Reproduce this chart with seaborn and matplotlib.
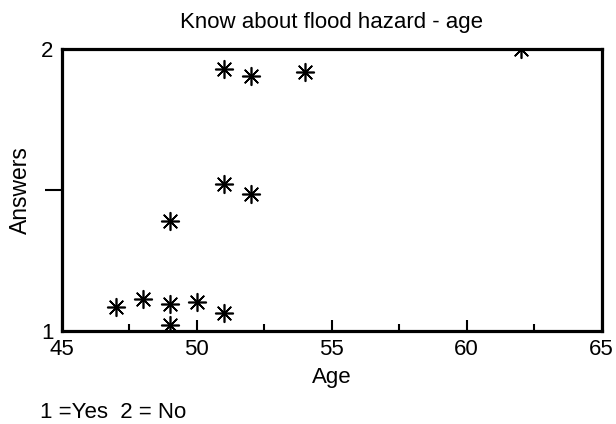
import matplotlib
matplotlib.use("Agg")
import matplotlib.pyplot as plt
import seaborn as sns
import pandas as pd
from matplotlib.ticker import MultipleLocator, FixedLocator

age = [47, 48, 49, 49, 50, 51, 49, 51, 52, 51, 52, 54, 62]
answers = [1.085, 1.113, 1.096, 1.02, 1.103, 1.064, 1.39, 1.52, 1.486, 1.929, 1.904, 1.918, 2.0]
x_ticks = [45, 50, 55, 60, 65]
y_ticks = [1, 2]
y_ticklabels = ["1", "2"]
y_minor = [1.5]

sns.set_style("white")
plt.rcParams['font.family'] = ['Liberation Sans', 'DejaVu Sans']
plt.rcParams['text.color'] = 'black'
plt.rcParams['axes.labelcolor'] = 'black'
plt.rcParams['xtick.color'] = 'black'
plt.rcParams['ytick.color'] = 'black'

df = pd.DataFrame({"Age": age, "Answers": answers})
fig = plt.figure(figsize=(6.16, 4.24), dpi=100)
ax = fig.add_axes([0.1006, 0.2193, 0.8760, 0.6651])
sns.scatterplot(data=df, x="Age", y="Answers", ax=ax, marker=(8, 2, 0), s=160,
                color="black", linewidth=1.2, zorder=2)

ax.set_xlim(45, 65)
ax.set_ylim(1, 2)
ax.set_xticks(x_ticks)
ax.set_xticklabels([str(t) for t in x_ticks], fontsize=16)
ax.xaxis.set_minor_locator(MultipleLocator(2.5))
ax.tick_params(axis="x", which="major", direction="in", length=8, width=1.5, pad=6, bottom=True)
ax.tick_params(axis="x", which="minor", direction="in", length=5, width=1.5, bottom=True)
ax.set_yticks(y_ticks)
ax.set_yticklabels(y_ticklabels, fontsize=16)
ax.yaxis.set_minor_locator(FixedLocator(y_minor))
ax.tick_params(axis="y", which="major", direction="out", length=0, pad=6, left=True)
ax.tick_params(axis="y", which="minor", direction="out", length=12, width=1.5, left=True)
for s in ax.spines.values():
    s.set_linewidth(2.3)
    s.set_color("black")
    s.set_visible(True)
ax.set_xlabel("Age", fontsize=16, labelpad=5)
ax.set_ylabel("Answers", fontsize=16.5)
ax.yaxis.set_label_coords(-0.055, 0.5)
ax.set_title("Know about flood hazard - age", fontsize=16, pad=15)
fig.text(0.065, 0.015, "1 =Yes  2 = No", fontsize=16)
fig.savefig("out.png", dpi=100)
